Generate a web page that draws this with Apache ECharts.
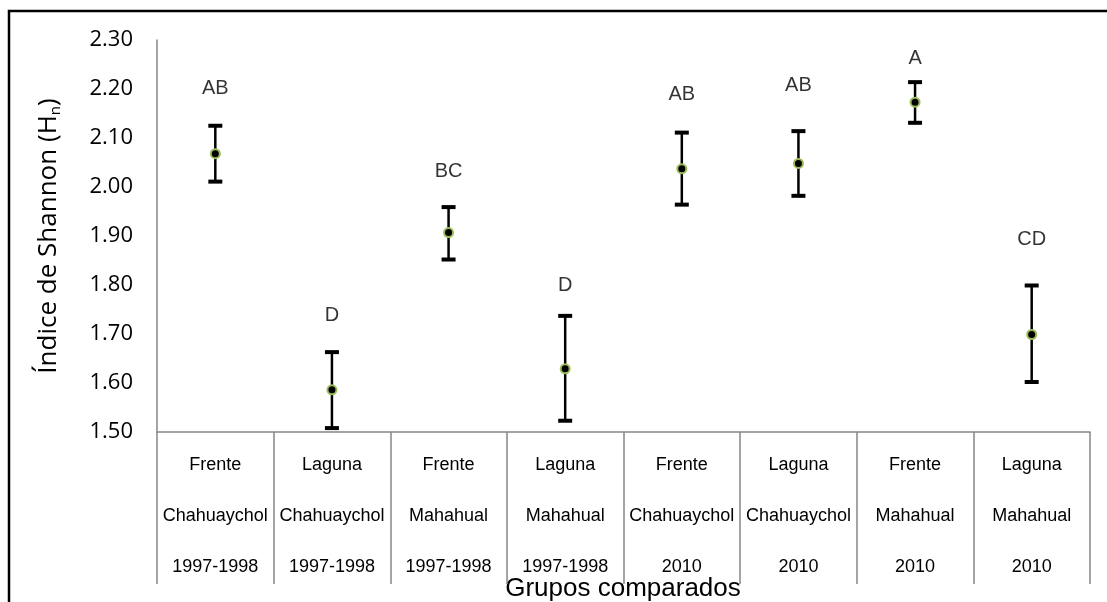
<!DOCTYPE html>
<html>
<head>
<meta charset="utf-8">
<script src="https://cdn.jsdelivr.net/npm/echarts@6/dist/echarts.min.js"></script>
<style>
html,body{margin:0;padding:0;background:#fff;}
#c{width:1107px;height:602px;}
</style>
</head>
<body>
<div id="c"></div>
<script>
// ---- data ----
const sites = ['Frente', 'Laguna', 'Frente', 'Laguna', 'Frente', 'Laguna', 'Frente', 'Laguna'];
const places = ['Chahuaychol', 'Chahuaychol', 'Mahahual', 'Mahahual', 'Chahuaychol', 'Chahuaychol', 'Mahahual', 'Mahahual'];
const periods = ['1997-1998', '1997-1998', '1997-1998', '1997-1998', '2010', '2010', '2010', '2010'];
const means = [2.068, 1.586, 1.907, 1.629, 2.037, 2.048, 2.173, 1.699];
const upper = [2.125, 1.663, 1.959, 1.737, 2.111, 2.114, 2.214, 1.799];
const lower = [2.011, 1.508, 1.852, 1.523, 1.964, 1.982, 2.131, 1.602];
const letters = ['AB', 'D', 'BC', 'D', 'AB', 'AB', 'A', 'CD'];
const letterY = [2.202, 1.737, 2.031, 1.798, 2.188, 2.208, 2.263, 1.892];
const yTicks = { min: 1.5, max: 2.3, interval: 0.1 };

const categories = sites.map((s, i) => s + '\n' + places[i] + '\n' + periods[i]);

const chart = echarts.init(document.getElementById('c'), null, { renderer: 'canvas' });
const option = {
  backgroundColor: '#fff',
  animation: false,
  grid: { left: 157, right: 17, top: 40, bottom: 170, containLabel: false },
  xAxis: {
    type: 'category',
    data: categories,
    boundaryGap: true,
    axisLine: { show: true, lineStyle: { color: '#868686', width: 1.5 } },
    axisTick: { show: true, interval: 0, length: 152, lineStyle: { color: '#868686', width: 1.5 } },
    axisLabel: {
      interval: 0, color: '#000', fontFamily: 'Liberation Sans', fontSize: 18,
      lineHeight: 51, margin: 8
    },
    splitLine: { show: false }
  },
  yAxis: {
    type: 'value',
    min: yTicks.min, max: yTicks.max, interval: yTicks.interval,
    axisLine: { show: true, lineStyle: { color: '#868686', width: 1.5 } },
    axisTick: { show: false },
    splitLine: { show: false },
    axisLabel: {
      color: '#000', fontFamily: 'Open Sans', fontSize: 22, margin: 24,
      formatter: v => v.toFixed(2)
    },
    name: '{t|Índice de Shannon (H}{s|n}{t|)}',
    nameLocation: 'middle',
    nameRotate: 90,
    nameGap: 94,
    nameTextStyle: {
      rich: {
        t: { fontFamily: 'Open Sans', fontSize: 26, color: '#000' },
        s: { fontFamily: 'Open Sans', fontSize: 15, color: '#000', verticalAlign: 'bottom', padding: [14, 0, 0, 0] }
      }
    }
  },
  graphic: [
    { type: 'rect', shape: { x: 9, y: 11, width: 1200, height: 700 },
      style: { fill: 'none', stroke: '#000', lineWidth: 2.5 }, silent: true },
    { type: 'text', x: 623, y: 589,
      style: { text: 'Grupos comparados', fontFamily: 'Liberation Sans', fontSize: 26,
               fill: '#000', textAlign: 'center', textVerticalAlign: 'middle' } }
  ],
  series: [
    {
      type: 'custom',
      z: 2,
      data: means.map((m, i) => [i, lower[i], upper[i]]),
      renderItem: function (params, api) {
        const lo = api.coord([api.value(0), api.value(1)]);
        const hi = api.coord([api.value(0), api.value(2)]);
        const cw = 14, ch = 4;
        return {
          type: 'group',
          children: [
            { type: 'line', shape: { x1: hi[0], y1: hi[1], x2: lo[0], y2: lo[1] },
              style: { stroke: '#000', lineWidth: 2.5 } },
            { type: 'rect', shape: { x: hi[0] - cw / 2, y: hi[1] - ch / 2, width: cw, height: ch },
              style: { fill: '#000' } },
            { type: 'rect', shape: { x: lo[0] - cw / 2, y: lo[1] - ch / 2, width: cw, height: ch },
              style: { fill: '#000' } }
          ]
        };
      }
    },
    {
      type: 'scatter',
      z: 3,
      data: means.map((m, i) => [i, m]),
      symbol: 'circle',
      symbolSize: 9,
      itemStyle: { color: '#000', borderColor: '#9bbb59', borderWidth: 2, opacity: 1 }
    },
    {
      type: 'scatter',
      z: 4,
      data: letterY.map((v, i) => [i, v]),
      symbolSize: 0,
      label: {
        show: true, position: 'inside',
        formatter: p => letters[p.dataIndex],
        fontFamily: 'Liberation Sans', fontSize: 20, color: '#000', textBorderWidth: 0
      }
    }
  ]
};
chart.setOption(option);
</script>
</body>
</html>
